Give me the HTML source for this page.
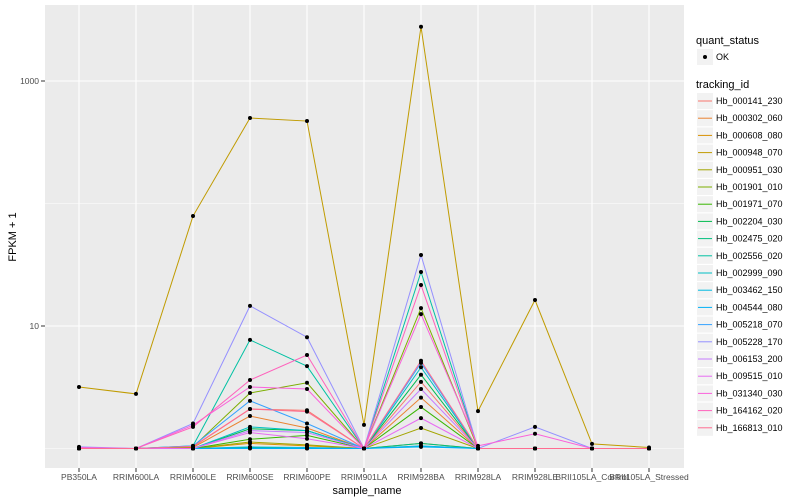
<!DOCTYPE html>
<html><head><meta charset="utf-8"><style>
body{margin:0;background:#fff;}
svg{display:block;font-family:"Liberation Sans",sans-serif;}
</style></head><body>
<svg id="chart" width="800" height="500" xmlns="http://www.w3.org/2000/svg">
<rect x="45" y="5" width="639" height="463" fill="#ebebeb"/>
<g id="grid"></g><g id="lines"></g><g id="pts"></g><g id="axes"></g><g id="legend"></g>
<text x="367" y="494" text-anchor="middle" font-size="11" fill="#000">sample_name</text>
<text transform="translate(16,237) rotate(-90)" text-anchor="middle" font-size="11" fill="#000">FPKM + 1</text>
</svg>
<script>
const samples=["PB350LA","RRIM600LA","RRIM600LE","RRIM600SE","RRIM600PE","RRIM901LA","RRIM928BA","RRIM928LA","RRIM928LE","BRII105LA_Control","BRII105LA_Stressed"];
const ids=["Hb_000141_230","Hb_000302_060","Hb_000608_080","Hb_000948_070","Hb_000951_030","Hb_001901_010","Hb_001971_070","Hb_002204_030","Hb_002475_020","Hb_002556_020","Hb_002999_090","Hb_003462_150","Hb_004544_080","Hb_005218_070","Hb_005228_170","Hb_006153_200","Hb_009515_010","Hb_031340_030","Hb_164162_020","Hb_166813_010"];
const colors=["#F8766D","#EA8331","#D89000","#C09B00","#A3A500","#7CAE00","#39B600","#00BB4E","#00BF7D","#00C1A3","#00BFC4","#00BAE0","#00B0F6","#35A2FF","#9590FF","#C77CFF","#E76BF3","#FA62DB","#FF62BC","#FF6C91"];
const s0=[1,1,1.03,2.1,2.05,1,3.5,1,1,1,1];
const s1=[1,1,1.02,1.84,1.47,1,2.6,1,1,1,1];
const s2=[1,1,1,1.1,1.05,1,1.1,1,1,1,1];
const s3=[3.18,2.79,79,499,471,1.56,2770,2.02,16.3,1.09,1.02];
const s4=[1,1,1,1.13,1.07,1,1.47,1,1,1,1];
const s5=[1,1,1.03,2.84,3.44,1,14,1,1,1,1];
const s6=[1,1,1,1.19,1.28,1,2.18,1,1,1,1];
const s7=[1,1,1,1.45,1.4,1,4.0,1,1,1,1];
const s8=[1,1,1,1.02,1,1,1.1,1,1,1,1];
const s9=[1,1,1.05,7.7,4.7,1,27.6,1,1,1,1];
const s10=[1,1,1,1.5,1.4,1,4.6,1,1,1,1];
const s11=[1,1,1,1.03,1.02,1,1.05,1,1,1,1];
const s12=[1,1,1,1,1,1,1.03,1,1,1,1];
const s13=[1,1,1.05,2.45,1.6,1,5.0,1,1,1,1];
const s14=[1.03,1,1.6,14.6,8.1,1,38,1,1.5,1,1];
const s15=[1,1,1,1.4,1.35,1,3.06,1,1,1,1];
const s16=[1,1,1,1.35,1.2,1,1.77,1,1,1,1];
const s17=[1.02,1,1.55,3.18,3.06,1,12.5,1.05,1.32,1,1];
const s18=[1,1,1.5,3.62,5.8,1,21.6,1,1,1,1];
const s19=[1,1,1.04,2.1,2.0,1,5.2,1,1,1,1];
const series=[s0,s1,s2,s3,s4,s5,s6,s7,s8,s9,s10,s11,s12,s13,s14,s15,s16,s17,s18,s19];
const yMajor=[10,1000], yMajorLabels=["10","1000"], yMinor=[1,100];

const NS="http://www.w3.org/2000/svg";
function mk(t,a,p){const e=document.createElementNS(NS,t);for(const k in a)e.setAttribute(k,a[k]);p.appendChild(e);return e;}
const xs=i=>79+i*57;
const ys=v=>326-(Math.log10(v)-1)*122.5;
const G=document.getElementById('grid'),L=document.getElementById('lines'),P=document.getElementById('pts'),A=document.getElementById('axes'),LG=document.getElementById('legend');
yMinor.forEach(v=>{const e=mk('line',{x1:45,x2:684,y1:ys(v),y2:ys(v),stroke:'#fff','stroke-width':0.6},G);

});
yMajor.forEach((v,i)=>{const e=mk('line',{x1:45,x2:684,y1:ys(v),y2:ys(v),stroke:'#fff','stroke-width':1.1},G);


const tk=mk('line',{x1:41,x2:45,y1:ys(v),y2:ys(v),stroke:'#333','stroke-width':1},A);


const t=mk('text',{x:39,y:ys(v)+3,'text-anchor':'end','font-size':8.5,fill:'#4d4d4d'},A);t.textContent=yMajorLabels[i];

});
samples.forEach((s,i)=>{const e=mk('line',{x1:xs(i),x2:xs(i),y1:5,y2:468,stroke:'#fff','stroke-width':1.1},G);


const tk=mk('line',{x1:xs(i),x2:xs(i),y1:468,y2:472,stroke:'#333','stroke-width':1},A);


const t=mk('text',{x:xs(i),y:480,'text-anchor':'middle','font-size':8.5,fill:'#4d4d4d'},A);t.textContent=s;

});
series.forEach((d,k)=>{const pl=mk('polyline',{points:d.map((v,i)=>xs(i)+','+ys(v)).join(' '),fill:'none',stroke:colors[k],'stroke-width':1},L);


d.forEach((v,i)=>{const c=mk('circle',{cx:xs(i),cy:ys(v),r:2,fill:'#000'},P);

});});
// legend
let t=mk('text',{x:696,y:44,'font-size':11,fill:'#000'},LG);t.textContent='quant_status';


let r=mk('rect',{x:697,y:49,width:16,height:16,fill:'#f2f2f2'},LG);


let c=mk('circle',{cx:705,cy:57,r:2,fill:'#000'},LG);


t=mk('text',{x:716,y:60,'font-size':9,fill:'#000'},LG);t.textContent='OK';


t=mk('text',{x:696,y:88,'font-size':11,fill:'#000'},LG);t.textContent='tracking_id';


ids.forEach((id,k)=>{const y=93+k*17.2;
const rr=mk('rect',{x:697,y:y,width:16,height:16,fill:'#f2f2f2'},LG);


const ln=mk('line',{x1:698,x2:712,y1:y+8,y2:y+8,stroke:colors[k],'stroke-width':1},LG);


const tx=mk('text',{x:716,y:y+11,'font-size':9,fill:'#000'},LG);tx.textContent=id;

});
</script>
</body></html>
